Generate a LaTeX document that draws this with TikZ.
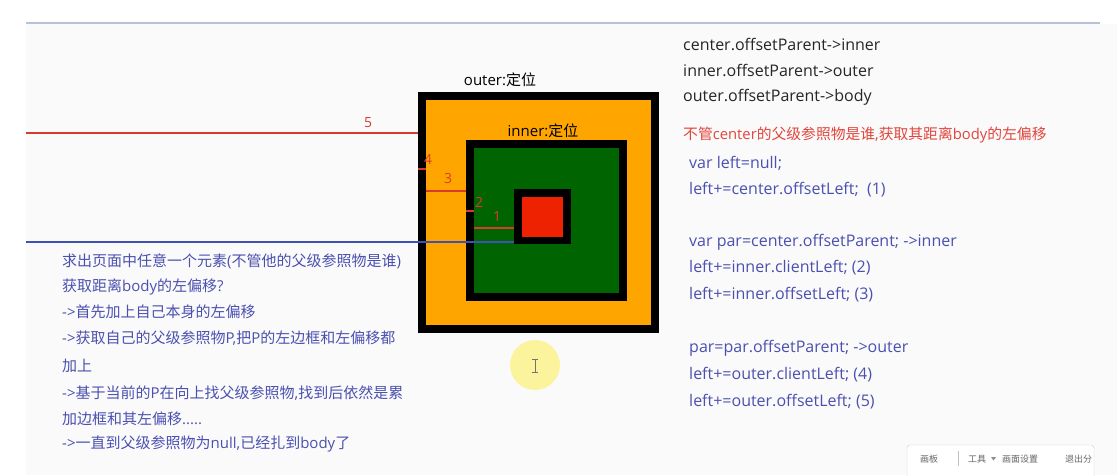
\documentclass[tikz,border=0pt]{standalone}
\usepackage{fontspec}
\setmainfont{Open Sans}
\newfontfamily\cjk{Noto Sans CJK SC}
\definecolor{boxorange}{HTML}{FFA500}
\definecolor{boxgreen}{HTML}{006400}
\definecolor{boxred}{HTML}{EE2200}
\definecolor{measure}{HTML}{D93A2E}
\definecolor{pageline}{HTML}{3F51B5}
\definecolor{notetext}{HTML}{4B50B0}
\definecolor{warntext}{HTML}{E2453C}
\definecolor{pagegray}{HTML}{FAFAFA}
\definecolor{topline}{HTML}{B4C3D9}
\definecolor{marker}{HTML}{FBF49C}
\begin{document}
\begin{tikzpicture}[x=1pt,y=-1pt]
  \tikzstyle{gap} = [color=measure, line width=1.8pt]
  \tikzstyle{body} = [color=pageline, line width=1.8pt]
  \tikzstyle{note} = [anchor=west, inner sep=0pt, color=notetext, font=\fontsize{15}{17}\selectfont]
  \tikzstyle{code} = [anchor=west, inner sep=0pt, color=notetext, font=\fontsize{16}{18}\selectfont]
  \tikzstyle{chain} = [anchor=west, inner sep=0pt, color=black!85, font=\fontsize{16}{18}\selectfont]
  \tikzstyle{num} = [inner sep=0pt, color=measure, font=\fontsize{14}{16}\selectfont]
  \tikzstyle{tool} = [inner sep=0pt, color=black!60, font=\cjk\fontsize{9}{11}\selectfont]
  \useasboundingbox (0,0) rectangle (1117,475);
  \fill[white] (0,0) rectangle (1117,475);
  \fill[pagegray] (26,24) rectangle (1117,475);
  \draw[topline, line width=2pt] (26,23) -- (1100,23);
  % boxes
  \fill[black] (418,92) rectangle (659,333);
  \fill[boxorange] (426,100) rectangle (651,325);
  \fill[black] (466,140) rectangle (627,301);
  \fill[boxgreen] (474,148) rectangle (619,293);
  \fill[black] (514,189) rectangle (571,244);
  \fill[boxred] (522,197) rectangle (563,237);
  \node[inner sep=0pt, font=\fontsize{15}{17}\selectfont] (outerlbl) at (500,80) {outer:{\cjk 定位}};
  \node[inner sep=0pt, font=\fontsize{15}{17}\selectfont] (innerlbl) at (543,131) {inner:{\cjk 定位}};
  % offsets
  \draw[gap] (26,133) -- (418,133);
  \node[num] (n5) at (368,123) {5};
  \draw[gap] (418,169) -- (426,169);
  \node[num] (n4) at (428,159) {4};
  \draw[gap] (426,191) -- (466,191);
  \node[num] (n3) at (448,178) {3};
  \draw[gap] (466,211) -- (474,211);
  \node[num] (n2) at (479,202) {2};
  \draw[gap] (474,228) -- (514,228);
  \node[num] (n1) at (497,216) {1};
  \draw[body] (26,242) -- (514,242);
  % left notes
  \node[note] (l1) at (62,261) {{\cjk 求出页面中任意一个元素}({\cjk 不管他的父级参照物是谁})};
  \node[note] (l2) at (62,287) {{\cjk 获取距离}body{\cjk 的左偏移}?};
  \node[note] (l3) at (62,312) {->{\cjk 首先加上自己本身的左偏移}};
  \node[note] (l4) at (62,338) {->{\cjk 获取自己的父级参照物}P,{\cjk 把}P{\cjk 的左边框和左偏移都}};
  \node[note] (l5) at (62,366) {{\cjk 加上}};
  \node[note] (l6) at (62,393) {->{\cjk 基于当前的}P{\cjk 在向上找父级参照物},{\cjk 找到后依然是累}};
  \node[note] (l7) at (62,419) {{\cjk 加边框和其左偏移}.....};
  \node[note] (l8) at (62,444) {->{\cjk 一直到父级参照物为}null,{\cjk 已经扎到}body{\cjk 了}};
  % right side
  \node[chain] (r1) at (683,44) {center.offsetParent->inner};
  \node[chain] (r2) at (683,70) {inner.offsetParent->outer};
  \node[chain] (r3) at (683,97) {outer.offsetParent->body};
  \node[chain, color=warntext, font=\fontsize{14.8}{17}\selectfont] (r4) at (683,135) {{\cjk 不管}center{\cjk 的父级参照物是谁},{\cjk 获取其距离}body{\cjk 的左偏移}};
  \node[code] (c1) at (689,163) {var left=null;};
  \node[code] (c2) at (689,190) {left+=center.offsetLeft;\ \ (1)};
  \node[code] (c3) at (689,242) {var par=center.offsetParent; ->inner};
  \node[code] (c4) at (689,268) {left+=inner.clientLeft; (2)};
  \node[code] (c5) at (689,295) {left+=inner.offsetLeft; (3)};
  \node[code] (c6) at (689,348) {par=par.offsetParent; ->outer};
  \node[code] (c7) at (689,375) {left+=outer.clientLeft; (4)};
  \node[code] (c8) at (689,402) {left+=outer.offsetLeft; (5)};
  % cursor mark
  \fill[marker] (535,365) circle (25);
  \draw[black!55, line width=0.9pt] (535,359) -- (535,372)
    (532,359) -- (538,359) (532,372) -- (538,372);
  % toolbar
  \draw[black!20, fill=white, rounded corners=3pt] (907,476) -- (907,445) -- (1094,445) -- (1094,476);
  \node[tool] (t1) at (929,459) {画板};
  \draw[black!25] (958,451) -- (958,466);
  \node[tool] (t2) at (977,459) {工具};
  \fill[black!45] (991,457) -- (996,457) -- (993.5,460.5) -- cycle;
  \node[tool] (t3) at (1020,459) {画面设置};
  \node[tool, anchor=west] (t4) at (1065,459) {退出分};
\end{tikzpicture}
\end{document}
